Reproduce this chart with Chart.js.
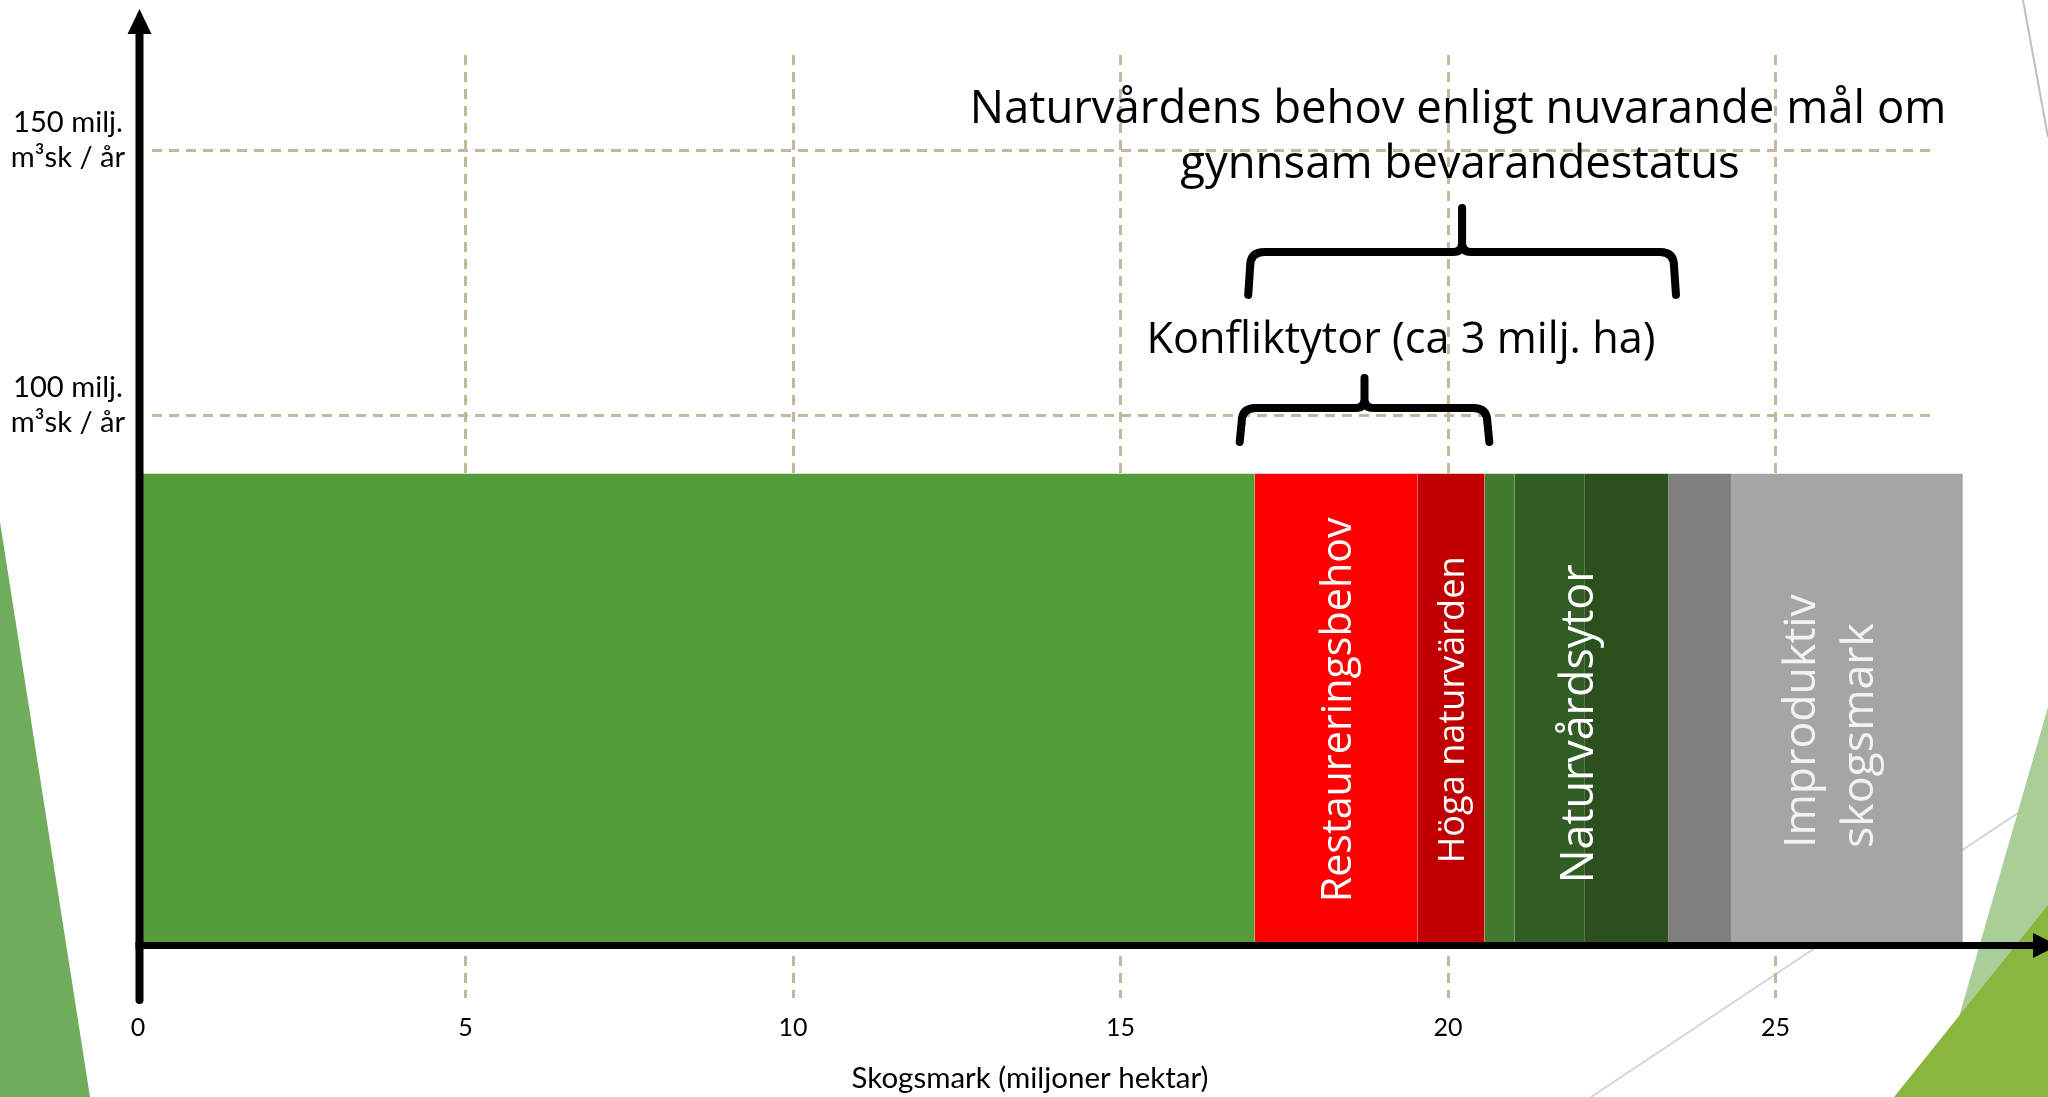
<!DOCTYPE html>
<html>
<head>
<meta charset="utf-8">
<script src="https://cdn.jsdelivr.net/npm/chart.js@4.4.1/dist/chart.umd.min.js"></script>
<style>html,body{margin:0;padding:0;background:#fff;overflow:hidden}canvas{display:block}</style>
</head>
<body>
<canvas id="c" width="2048" height="1097"></canvas>
<script>
// ---------------- data ----------------
const segmentNames  = ['Produktiv skogsmark', 'Restaureringsbehov', 'Höga naturvärden', 'Naturvårdsytor 1', 'Naturvårdsytor 2', 'Naturvårdsytor 3', 'Övrig', 'Improduktiv skogsmark'];
const segmentWidths = [17.05, 2.48, 1.03, 0.46, 1.07, 1.28, 0.95, 3.54];   // miljoner hektar
const barHeight     = 89;                                                    // milj. m³sk / år
const xTicks        = [0, 5, 10, 15, 20, 25];
const yTicks        = [100, 150];
const yTickUnit     = 'm³sk / år';
const xTitle        = 'Skogsmark (miljoner hektar)';
const titleLines    = ['Naturvårdens behov enligt nuvarande mål om', 'gynnsam bevarandestatus'];
const conflictText  = 'Konfliktytor (ca 3 milj. ha)';
const braceRanges   = [[16.85, 20.6], [16.98, 23.45]];   // x-range of the braces
const braceLevels   = [101.4, 130.8];                    // y-level of the braces

// ---------------- styles ----------------
const segmentColors = ['#549E39', '#FF0000', '#C00000', '#427A2E', '#325E25', '#2C4F1E', '#7F7F7F', '#A5A5A5'];
const gridColor = '#C4B79C';
const OS = "'Open Sans'";
const LATO = 'Lato';

const mc = document.createElement('canvas').getContext('2d');
function tw(text, font) { mc.font = font; return mc.measureText(text).width; }
function fit(text, family, target) { return 100 * target / tw(text, '100px ' + family); }
function capH(size, family) { mc.font = size + 'px ' + family; return mc.measureText('H').actualBoundingBoxAscent; }

const yTickSize = fit('150 milj.', LATO, 110);
const xTickSize = fit('10', LATO, 29);
const xTitleSize = fit(xTitle, LATO, 357);
const yWidest = Math.max(tw('150 milj.', yTickSize + 'px ' + LATO), tw(yTickUnit, yTickSize + 'px ' + LATO));
const yTickPad = 138 - 68 - yWidest / 2;

// ---------------- datasets ----------------
let acc = 0;
const segStarts = [], segEnds = [];
const datasets = segmentWidths.map((w, i) => {
  const x0 = acc; acc += w;
  segStarts.push(x0); segEnds.push(acc);
  return {
    label: segmentNames[i],
    data: [{x: x0, y: barHeight}, {x: acc, y: barHeight}],
    fill: 'origin',
    backgroundColor: segmentColors[i],
    borderColor: 'rgba(0,0,0,0)',
    borderWidth: 0,
    pointRadius: 0,
    pointHoverRadius: 0
  };
});

const segLabelSpecs = [
  {from: 1, to: 1, lines: ['Restaureringsbehov'], fitTo: 385, color: '#FFFFFF', shiftY: 0},
  {from: 2, to: 2, lines: ['Höga naturvärden'], fitTo: 307, color: '#FFFFFF', shiftY: 0},
  {from: 3, to: 5, lines: ['Naturvårdsytor'], fitTo: 319, color: '#FFFFFF', shiftY: 14},
  {from: 7, to: 7, lines: ['Improduktiv', 'skogsmark'], fitTo: 254, color: '#F2F2F2', startY: 848, offsets: [-32, 26]}
];

function poly(c, pts, color) {
  c.beginPath(); c.moveTo(pts[0][0], pts[0][1]);
  for (let i = 1; i < pts.length; i++) c.lineTo(pts[i][0], pts[i][1]);
  c.closePath(); c.fillStyle = color; c.fill();
}
function seg(c, x1, y1, x2, y2, color, w) {
  c.beginPath(); c.moveTo(x1, y1); c.lineTo(x2, y2); c.strokeStyle = color; c.lineWidth = w; c.stroke();
}
function brace(c, x1, x2, yBar, arm, stem) {
  const xm = (x1 + x2) / 2, r = 14, r2 = 9;
  c.beginPath();
  c.moveTo(x1 - 2, yBar + arm); c.lineTo(x1, yBar + r); c.quadraticCurveTo(x1, yBar, x1 + r, yBar);
  c.lineTo(xm - r2, yBar); c.quadraticCurveTo(xm, yBar, xm, yBar - r2); c.lineTo(xm, yBar - stem);
  c.moveTo(x2 + 2, yBar + arm); c.lineTo(x2, yBar + r); c.quadraticCurveTo(x2, yBar, x2 - r, yBar);
  c.lineTo(xm + r2, yBar); c.quadraticCurveTo(xm, yBar, xm, yBar - r2);
  c.stroke();
}

const deco = {
  id: 'deco',
  beforeDraw(chart) {
    const c = chart.ctx;
    c.save();
    c.fillStyle = '#FFFFFF'; c.fillRect(0, 0, chart.width, chart.height);
    poly(c, [[0, 522], [90, 1097], [0, 1097]], '#6FAC5C');
    seg(c, 1591, 1097, 2048, 793, '#D6D6D6', 2);
    seg(c, 2023, 0, 2048, 137, '#BFBFBF', 2);
    poly(c, [[2048, 707], [1936, 1097], [2048, 1097]], '#A9CE98');
    poly(c, [[2048, 905], [1894, 1097], [2048, 1097]], '#8AB63E');
    c.restore();
  },
  beforeDatasetsDraw(chart) {
    const c = chart.ctx, xs = chart.scales.x, ys = chart.scales.y;
    c.save();
    c.strokeStyle = gridColor; c.lineWidth = 3; c.setLineDash([10, 7]);
    for (const v of yTicks) {
      const py = Math.round(ys.getPixelForValue(v)) + 0.5;
      c.beginPath(); c.moveTo(xs.getPixelForValue(0) + 14, py); c.lineTo(xs.getPixelForValue(27.43), py); c.stroke();
    }
    c.restore();
  },
  afterDraw(chart) {
    const c = chart.ctx, xs = chart.scales.x, ys = chart.scales.y;
    c.save();
    // segment labels (rotated)
    const yTop = ys.getPixelForValue(barHeight), yBot = ys.getPixelForValue(0);
    const cy = (yTop + yBot) / 2;
    for (const s of segLabelSpecs) {
      const cx = (xs.getPixelForValue(segStarts[s.from]) + xs.getPixelForValue(segEnds[s.to])) / 2;
      const size = fit(s.lines[0], OS, s.fitTo);
      const ch = capH(size, OS);
      c.font = size + 'px ' + OS; c.fillStyle = s.color; c.textBaseline = 'alphabetic';
      if (s.lines.length === 1) {
        c.save(); c.translate(cx + ch / 2, cy + s.shiftY); c.rotate(-Math.PI / 2);
        c.textAlign = 'center'; c.fillText(s.lines[0], 0, 0); c.restore();
      } else {
        s.lines.forEach((t, i) => {
          c.save(); c.translate(cx + s.offsets[i], s.startY); c.rotate(-Math.PI / 2);
          c.textAlign = 'left'; c.fillText(t, 0, 0); c.restore();
        });
      }
    }
    // axes with arrows
    c.fillStyle = '#000'; c.strokeStyle = '#000';
    const ax = xs.getPixelForValue(0) + 1.5;
    const ay = ys.getPixelForValue(0) - 0.5;
    c.lineCap = 'round'; c.lineWidth = 8;
    c.beginPath(); c.moveTo(ax, 1000); c.lineTo(ax, 30); c.stroke();
    poly(c, [[ax - 12, 34], [ax + 12, 34], [ax, 9]], '#000');
    c.lineCap = 'butt'; c.lineWidth = 7;
    c.beginPath(); c.moveTo(ax - 4, ay); c.lineTo(2036, ay); c.stroke();
    poly(c, [[2033, ay - 12.5], [2033, ay + 12.5], [2058, ay]], '#000');
    // braces
    c.lineWidth = 8; c.lineCap = 'round'; c.lineJoin = 'round'; c.strokeStyle = '#000';
    const arms = [34, 43], stems = [30, 44];
    braceRanges.forEach((r, i) => {
      brace(c, xs.getPixelForValue(r[0]), xs.getPixelForValue(r[1]), ys.getPixelForValue(braceLevels[i]), arms[i], stems[i]);
    });
    // annotation texts
    c.fillStyle = '#000'; c.textAlign = 'center'; c.textBaseline = 'alphabetic';
    const tSize = fit(titleLines[0], OS, 977);
    c.font = tSize + 'px ' + OS;
    c.fillText(titleLines[0], 1458, 123);
    c.fillText(titleLines[1], 1460, 178);
    c.font = fit(conflictText, OS, 509) + 'px ' + OS;
    c.fillText(conflictText, 1401, 353);
    c.font = xTitleSize + 'px ' + LATO;
    c.fillText(xTitle, 1030, 1088);
    c.restore();
  }
};

new Chart(document.getElementById('c'), {
  type: 'line',
  data: {datasets},
  options: {
    responsive: false,
    devicePixelRatio: 1,
    animation: false,
    events: [],
    layout: {padding: {top: 55, left: 0, right: 0, bottom: 0}},
    plugins: {legend: {display: false}, tooltip: {enabled: false}},
    scales: {
      x: {
        type: 'linear', min: 0, max: 29.16,
        afterBuildTicks: s => { s.ticks = xTicks.map(v => ({value: v})); },
        afterFit: s => { s.height = 99; },
        grid: {color: gridColor, lineWidth: 3, drawTicks: false},
        border: {display: false, dash: [10, 7]},
        ticks: {font: {family: LATO, size: xTickSize}, color: '#000', padding: 15, maxRotation: 0, autoSkip: false, callback: v => String(v)}
      },
      y: {
        type: 'linear', min: -9.8, max: 167.9,
        afterBuildTicks: s => { s.ticks = yTicks.map(v => ({value: v})); },
        afterFit: s => { s.width = 138; },
        grid: {display: false, drawTicks: false},
        border: {display: false},
        ticks: {font: {family: LATO, size: yTickSize, lineHeight: 35 / yTickSize}, color: '#000', padding: yTickPad, crossAlign: 'center', labelOffset: -10, autoSkip: false, callback: v => [v + ' milj.', yTickUnit]}
      }
    }
  },
  plugins: [deco]
});
</script>
</body>
</html>
